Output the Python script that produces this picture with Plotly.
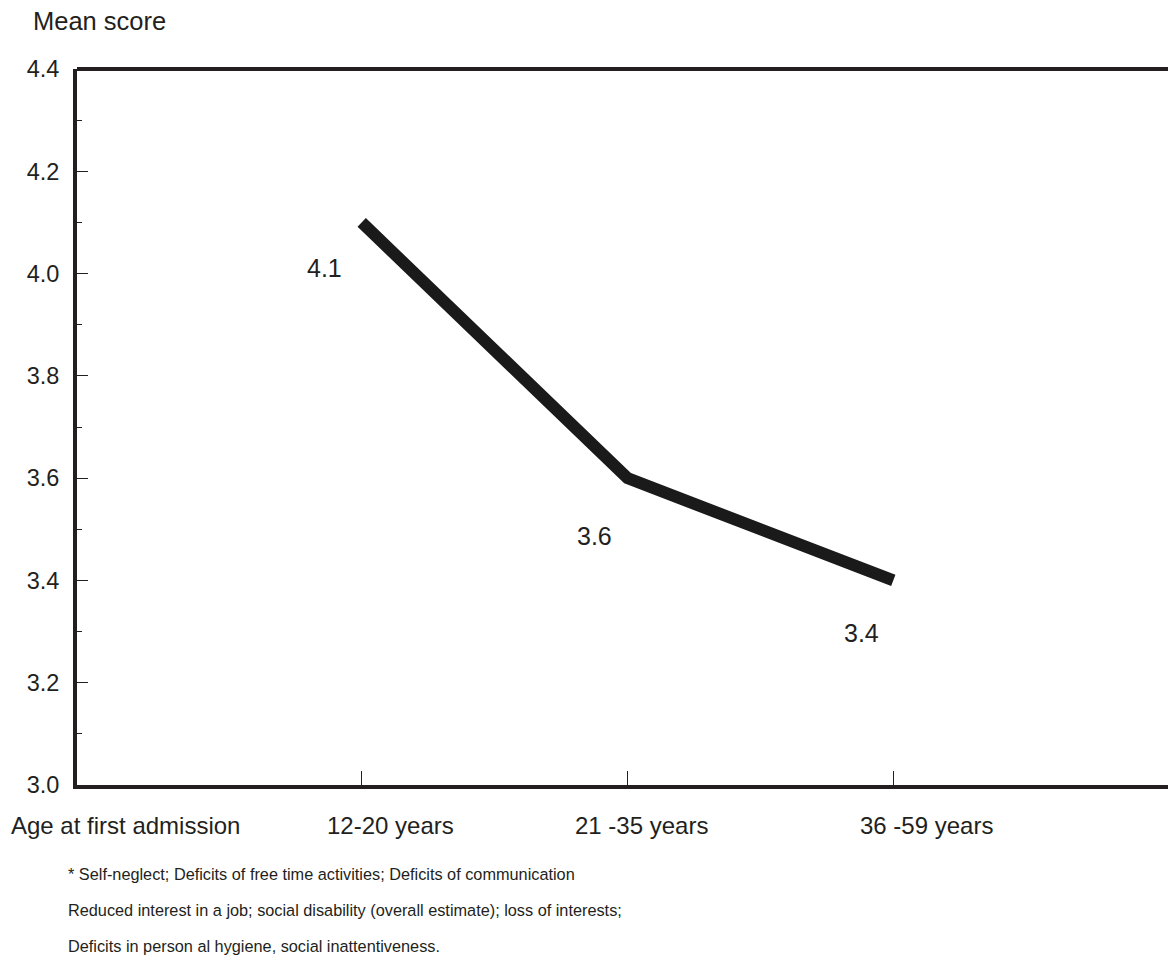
import plotly.graph_objects as go

categories = ["12-20 years", "21-35 years", "36-59 years"]
tick_labels = ["12-20 years", "21 -35 years", "36 -59 years"]
tick_label_shift = [29, 14, 33]
positions = [1, 2, 3]
mean_scores = [4.1, 3.6, 3.4]
value_labels = ["4.1", "3.6", "3.4"]
label_shift_x = [-37, -33, -32]
label_shift_y = [-46, -58, -53]
footnotes = [
    "* Self-neglect; Deficits of free time activities; Deficits of communication",
    "Reduced interest in a job; social disability (overall estimate); loss of interests;",
    "Deficits in person al hygiene, social inattentiveness.",
]

INK = "#231f20"
FONT = "Liberation Sans, Arial, sans-serif"

OFF = 8  # page body margin compensation
W, H = 1176 - OFF, 960 - OFF
L, T = 77 - OFF, 69 - OFF
BOTTOM = 785 - OFF
R = 0
B = H - BOTTOM
plot_w = W - L - R
plot_h = H - T - B

fig = go.Figure()
fig.add_trace(go.Scatter(
    x=positions, y=mean_scores, mode="lines",
    line=dict(color="#1a1a1a", width=12),
    hoverinfo="skip", showlegend=False,
))

for xv, yv, txt, dx, dy in zip(positions, mean_scores, value_labels, label_shift_x, label_shift_y):
    fig.add_annotation(x=xv, y=yv, text=txt, showarrow=False,
                       xshift=dx, yshift=dy,
                       font=dict(size=25, color=INK, family=FONT))

def px_to_paper_x(px):
    return (px - OFF - L) / plot_w

def px_to_paper_y(py):
    return (H - B - (py - OFF)) / plot_h

for xv, txt, dx in zip(positions, tick_labels, tick_label_shift):
    fig.add_annotation(x=xv, xref="x", yref="paper", y=px_to_paper_y(825),
                       xshift=dx, yanchor="middle", xanchor="center", text=txt, showarrow=False,
                       font=dict(size=24, color=INK, family=FONT))

fig.add_annotation(xref="paper", yref="paper", x=px_to_paper_x(31), y=px_to_paper_y(21),
                   xanchor="left", yanchor="middle", text="Mean score", showarrow=False,
                   font=dict(size=25.5, color=INK, family=FONT))
fig.add_annotation(xref="paper", yref="paper", x=px_to_paper_x(9), y=px_to_paper_y(825),
                   xanchor="left", yanchor="middle", text="Age at first admission", showarrow=False,
                   font=dict(size=24, color=INK, family=FONT))
for i, line in enumerate(footnotes):
    fig.add_annotation(xref="paper", yref="paper", x=px_to_paper_x(66), y=px_to_paper_y(874 + 36 * i),
                       xanchor="left", yanchor="middle", text=line, showarrow=False,
                       font=dict(size=16.3, color=INK, family=FONT))

# top border line
fig.add_shape(type="line", xref="paper", yref="paper", x0=0, x1=1, y0=1, y1=1,
              line=dict(color=INK, width=4))

unit = 265.8
x0 = 1 - (361.7 - OFF - L) / unit
x1 = x0 + plot_w / unit

fig.update_layout(
    width=W, height=H,
    margin=dict(l=L, r=R, t=T, b=B, pad=0),
    paper_bgcolor="white", plot_bgcolor="white",
    font=dict(family=FONT, color=INK, size=24),
    xaxis=dict(
        range=[x0, x1], tickmode="array", tickvals=positions, ticktext=tick_labels,
        showticklabels=False,
        showgrid=False, zeroline=False, showline=True, linecolor=INK, linewidth=4,
        ticks="inside", ticklen=14, tickwidth=1, tickcolor=INK,
    ),
    yaxis=dict(
        range=[3.0, 4.4], tickmode="linear", tick0=3.0, dtick=0.2, tickformat=".1f",
        showgrid=False, zeroline=False, showline=True, linecolor=INK, linewidth=4,
        ticks="inside", ticklen=11, tickwidth=1, tickcolor=INK,
        minor=dict(ticks="inside", ticklen=5, tickwidth=1, tickcolor=INK, dtick=0.1, showgrid=False),
        ticklabelstandoff=9, tickfont=dict(size=23.5, color=INK, family=FONT),
    ),
)

fig.write_html("out.html")
